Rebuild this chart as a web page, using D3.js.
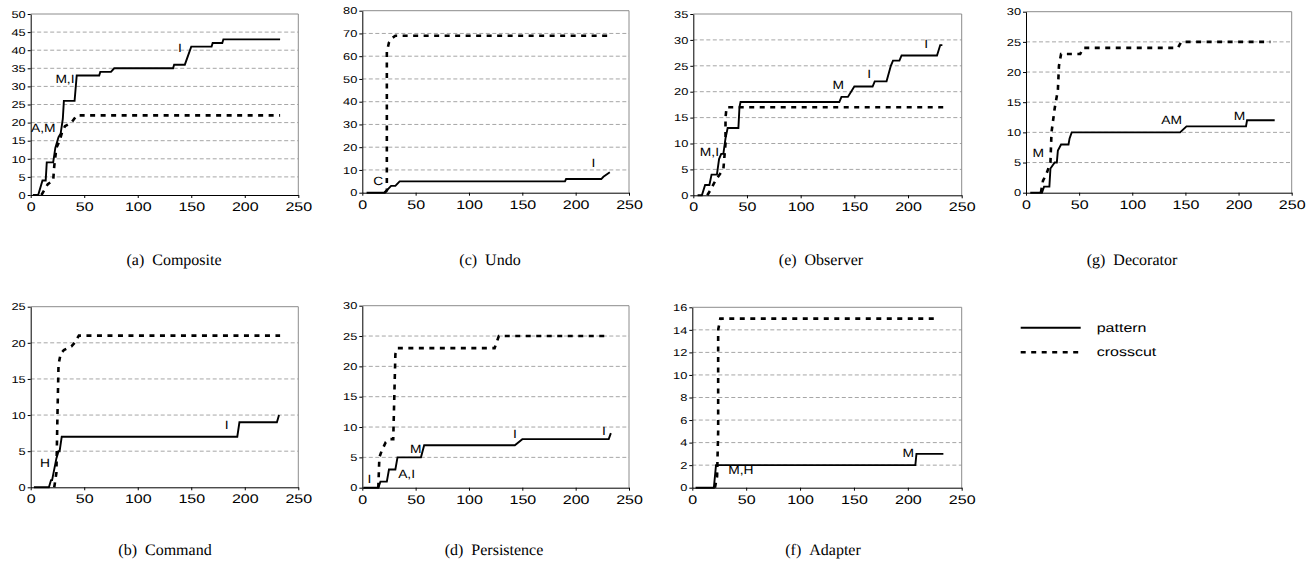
<!DOCTYPE html>
<html><head><meta charset="utf-8">
<script src="https://cdn.jsdelivr.net/npm/d3@7"></script>
<style>body{margin:0;background:#fff} svg{display:block} text{text-rendering:geometricPrecision}</style>
</head><body><svg id="chart" width="1312" height="567"></svg>
<script>
// ---------- data ----------
const xTicks = [0, 50, 100, 150, 200, 250];
const seriesNames = ["pattern", "crosscut"];
const panelIds = ["a", "c", "e", "g", "b", "d", "f"];
const captions = ["(a)\u00a0\u00a0Composite", "(c)\u00a0\u00a0Undo", "(e)\u00a0\u00a0Observer", "(g)\u00a0\u00a0Decorator",
                  "(b)\u00a0\u00a0Command", "(d)\u00a0\u00a0Persistence", "(f)\u00a0\u00a0Adapter"];
const yMaxes = [50, 80, 35, 30, 25, 30, 16];
const ySteps = [5, 10, 5, 5, 5, 5, 2];

const compositePattern = [[2,0],[7,0],[11,4],[14,4],[15,9],[21,9],[23,13],[26,16],[28,17],[30,21],[31,26],[41,26],[43,33],[64,33],[65,34],[75,34],[78,35],[133,35],[134,36],[144,36],[150,41],[169,41],[170,42],[179,42],[180,43],[233,43]];
const compositeCrosscut = [[10,0],[12,1],[16,3],[21,4],[22,8],[24,13],[27,15],[29,17],[32,19],[38,20],[43,22],[233,22]];
const compositeNotes = [["I",139.5,40.5],["M,I",32,32],["A,M",11.8,18.4]];

const undoPattern = [[4,0],[21,0],[25,2],[27,3],[31,3],[33,4],[35,5],[190,5],[191,6],[224,6],[226,7],[229,8],[232,9]];
const undoCrosscut = [[21,0],[23,1],[23,62],[25,66],[28,68],[31,69],[233,69]];
const undoNotes = [["C",15,5.1],["I",216.6,12.9]];

const observerPattern = [[4,0],[8,0],[11,2],[15,2],[17,4],[22,4],[24,7],[26,8],[28,8],[30,11],[32,13],[42,13],[43,17],[44,18],[136,18],[138,19],[144,19],[150,21],[167,21],[169,22],[180,22],[184,25],[186,26],[192,26],[194,27],[227,27],[230,29],[232,29]];
const observerCrosscut = [[13,0],[16,1],[21,3],[28,5],[30,10],[30,15],[31,17],[233,17]];
const observerNotes = [["M,I",15,8.4],["M",135,21.3],["I",163.7,23.5],["I",217,29.2]];

const decoratorPattern = [[4,0],[15,0],[17,1],[22,1],[23,4],[27,5],[29,5],[30,7],[33,8],[40,8],[41,9],[43,10],[145,10],[151,11],[207,11],[208,12],[234,12]];
const decoratorCrosscut = [[14,0],[16,2],[19,3],[23,5],[24,10],[27,14],[30,17],[31,21],[33,23],[51,23],[54,24],[143,24],[146,25],[230,25]];
const decoratorNotes = [["M",11.6,6.5],["AM",137,12],["M",201,12.7]];

const commandPattern = [[3,0],[17,0],[19,1],[20,1],[24,4],[26,5],[27,5],[29,7],[193,7],[195,9],[230,9],[232,10]];
const commandCrosscut = [[22,0],[24,2],[25,10],[26,17],[28,18.5],[31,19],[38,19.5],[41,20],[45,21],[233,21]];
const commandNotes = [["H",13.4,3.3],["I",183,8.6]];

const persistencePattern = [[1,0],[15,0],[17,1],[23,1],[25,3],[31,3],[33,5],[55,5],[58,7],[143,7],[150,8],[231,8],[233,9]];
const persistenceCrosscut = [[15,0],[16,5],[18,6],[22,7.5],[26,8],[29,8],[30,15],[31,22],[33,23],[124,23],[128,25],[231,25]];
const persistenceNotes = [["I",6.6,1.4],["A,I",41.5,2.2],["M",50,6.4],["I",143,8.9],["I",226.5,9.3]];

const adapterPattern = [[3,0],[20,0],[22,2],[207,2],[208,3],[233,3]];
const adapterCrosscut = [[21,0],[23,1],[24,5],[24,14],[26,15],[227,15]];
const adapterNotes = [["M,H",45,1.6],["M",200.5,3.05]];

// ---------- layout (positions only) ----------
const frames = {
  a: {L:30.7, T:14,    R:298.3, B:195,   cx:174,  cy:265},
  c: {L:362.3,T:10.7,  R:629,   B:192.7, cx:490,  cy:265},
  e: {L:693.3,T:14,    R:961.7, B:195.3, cx:821,  cy:265},
  g: {L:1026, T:11.7,  R:1291.7,B:192.7, cx:1132, cy:265},
  b: {L:30.7, T:306.7, R:298.3, B:487.3, cx:165,  cy:555},
  d: {L:362.3,T:305.7, R:629,   B:487.7, cx:494,  cy:555},
  f: {L:692.3,T:307.3, R:961.7, B:487.7, cx:823,  cy:555}
};

const patterns = [compositePattern, undoPattern, observerPattern, decoratorPattern, commandPattern, persistencePattern, adapterPattern];
const crosscuts = [compositeCrosscut, undoCrosscut, observerCrosscut, decoratorCrosscut, commandCrosscut, persistenceCrosscut, adapterCrosscut];
const notes = [compositeNotes, undoNotes, observerNotes, decoratorNotes, commandNotes, persistenceNotes, adapterNotes];

const SANS = "'Liberation Sans', Arial, sans-serif";
const SERIF = "'Liberation Serif', 'Times New Roman', serif";
const STRETCH = 1.28;
const styles = {
  pattern: {w: 1.9, dash: null},
  crosscut: {w: 2.6, dash: "5,5.5"}
};

const svg = d3.select("#chart");

function stretchText(sel, s) {
  sel.each(function() {
    const t = d3.select(this);
    const x = +t.attr("x") || 0;
    t.attr("x", 0).attr("transform", `translate(${x},0) scale(${s},1)`);
  });
}

panelIds.forEach((id, i) => {
  const f = frames[id];
  const g = svg.append("g");
  const x = d3.scaleLinear().domain([0, 250]).range([f.L, f.R]);
  const y = d3.scaleLinear().domain([0, yMaxes[i]]).range([f.B, f.T]);
  const yt = d3.range(0, yMaxes[i] + ySteps[i] / 2, ySteps[i]);

  // grid
  g.selectAll(".grid").data(yt.filter(v => v > 0 && v < yMaxes[i])).join("line")
    .attr("x1", f.L).attr("x2", f.R).attr("y1", d => y(d)).attr("y2", d => y(d))
    .attr("stroke", "#a6a6a6").attr("stroke-width", 1).attr("stroke-dasharray", "4,2.5");
  // frame top & right
  g.append("path").attr("d", `M${f.L},${y(yMaxes[i])}H${f.R}V${f.B}`)
    .attr("fill", "none").attr("stroke", "#8c8c8c").attr("stroke-width", 1);

  // axes
  const ya = g.append("g").attr("transform", `translate(${f.L},0)`)
    .call(d3.axisLeft(y).tickValues(yt).tickSize(3).tickPadding(2).tickSizeOuter(0));
  ya.select(".domain").attr("stroke", "#000");
  ya.selectAll("text").attr("font-family", SANS).attr("font-size", 10).attr("fill", "#000");
  stretchText(ya.selectAll("text"), STRETCH);

  const xa = g.append("g").attr("transform", `translate(0,${f.B})`)
    .call(d3.axisBottom(x).tickValues(xTicks).tickSize(3).tickPadding(4).tickSizeOuter(0));
  xa.select(".domain").attr("stroke", "#000");
  xa.selectAll("text").attr("font-family", SANS).attr("font-size", 12.5).attr("fill", "#000");
  stretchText(xa.selectAll("text"), STRETCH);

  const line = d3.line().x(d => x(d[0])).y(d => y(d[1]));
  [["crosscut", crosscuts[i]], ["pattern", patterns[i]]].forEach(([name, data]) => {
    const st = styles[name];
    g.append("path").datum(data).attr("d", line).attr("fill", "none")
      .attr("stroke", "#000").attr("stroke-width", st.w)
      .attr("stroke-dasharray", st.dash).attr("stroke-linejoin", "miter");
  });

  // annotations
  notes[i].forEach(([t, vx, vy]) => {
    g.append("text").text(t).attr("font-family", SANS).attr("font-size", 12).attr("fill", "#000")
      .attr("text-anchor", "middle").attr("dominant-baseline", "central")
      .attr("transform", `translate(${x(vx)},${y(vy)}) scale(1.15,1)`);
  });

  // caption
  g.append("text").text(captions[i]).attr("x", f.cx).attr("y", f.cy).attr("fill", "#000")
    .attr("text-anchor", "middle").attr("font-family", SERIF).attr("font-size", 16);
});

// legend
const legend = svg.append("g");
const legX1 = 1020.7, legX2 = 1080.7, legTx = 1096.7;
const legY = [327.7, 352.3];
seriesNames.forEach((name, k) => {
  legend.append("line").attr("x1", legX1).attr("x2", legX2).attr("y1", legY[k]).attr("y2", legY[k])
    .attr("stroke", "#000").attr("stroke-width", styles[name].w).attr("stroke-dasharray", styles[name].dash);
  legend.append("text").text(name).attr("font-family", SANS).attr("font-size", 12.5).attr("fill", "#000")
    .attr("dominant-baseline", "central")
    .attr("transform", `translate(${legTx},${legY[k]}) scale(${STRETCH},1)`);
});
</script></body></html>
